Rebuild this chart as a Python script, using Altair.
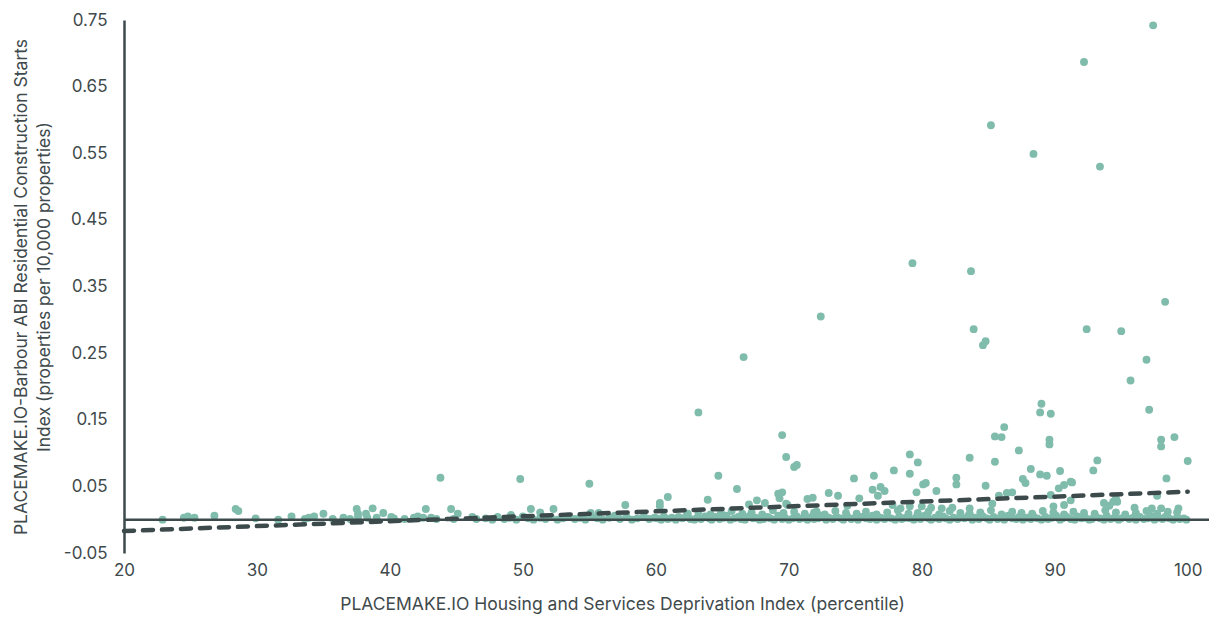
import altair as alt
import pandas as pd

# ---- data ----
# sparse points left of the dense band (20-47)
left_x = [22.9, 24.5, 24.8, 25.3, 26.8, 28.4, 28.6, 29.9, 31.6, 32.6,
          33.6, 33.9, 34.3, 35.0, 35.7, 36.5, 37.0, 37.5, 37.6, 37.6,
          38.2, 38.3, 38.7, 39.0, 39.5, 40.1, 40.3, 41.1, 41.8, 42.1,
          42.5, 42.7, 43.1, 43.5, 43.8, 44.6, 44.8, 45.1, 46.2, 46.5]
left_y = [0.000, 0.003, 0.005, 0.003, 0.006, 0.016, 0.013, 0.002, 0.000, 0.005,
          0.001, 0.003, 0.005, 0.009, 0.001, 0.003, 0.001, 0.016, 0.009, 0.004,
          0.009, 0.003, 0.017, 0.003, 0.010, 0.004, 0.002, 0.001, 0.003, 0.005,
          0.003, 0.016, 0.003, 0.001, 0.063, 0.016, 0.001, 0.009, 0.004, 0.001]

# dense band near zero, 47-60
band1_x = [47.2, 47.7, 48.1, 48.6, 49.0, 49.5, 50.0, 50.4, 50.8, 51.3,
           51.7, 52.1, 52.6, 53.0, 53.4, 53.9, 54.3, 54.7, 55.2, 55.6,
           56.0, 56.5, 56.9, 57.3, 57.8, 58.2, 58.6, 59.1, 59.5, 59.9]
band1_y = [0.002, 0.000, 0.004, 0.001, 0.003, 0.000, 0.005, 0.002, 0.000, 0.003,
           0.001, 0.004, 0.000, 0.002, 0.005, 0.001, 0.003, 0.000, 0.004, 0.002,
           0.000, 0.003, 0.006, 0.001, 0.004, 0.000, 0.002, 0.005, 0.001, 0.003]

# dense band near zero, 60-100
band2_x = [60.1, 60.4, 60.6, 60.9, 61.2, 61.5, 61.7, 62.0, 62.3, 62.6,
           62.9, 63.1, 63.4, 63.7, 64.0, 64.2, 64.5, 64.8, 65.1, 65.3,
           65.6, 65.9, 66.2, 66.4, 66.7, 67.0, 67.3, 67.5, 67.8, 68.1,
           68.4, 68.6, 68.9, 69.2, 69.5, 69.7, 70.0, 70.3, 70.6, 70.8,
           71.1, 71.4, 71.7, 71.9, 72.2, 72.5, 72.8, 73.0, 73.3, 73.6,
           73.9, 74.1, 74.4, 74.7, 75.0, 75.2, 75.5, 75.8, 76.1, 76.3,
           76.6, 76.9, 77.2, 77.4, 77.7, 78.0, 78.3, 78.5, 78.8, 79.1,
           79.4, 79.6, 79.9, 80.2, 80.5, 80.7, 81.0, 81.3, 81.6, 81.8,
           82.1, 82.4, 82.7, 82.9, 83.2, 83.5, 83.8, 84.0, 84.3, 84.6,
           84.9, 85.1, 85.4, 85.7, 86.0, 86.2, 86.5, 86.8, 87.1, 87.3,
           87.6, 87.9, 88.2, 88.4, 88.7, 89.0, 89.3, 89.5, 89.8, 90.1,
           90.4, 90.6, 90.9, 91.2, 91.5, 91.7, 92.0, 92.3, 92.6, 92.8,
           93.1, 93.4, 93.7, 93.9, 94.2, 94.5, 94.8, 95.0, 95.3, 95.6,
           95.9, 96.1, 96.4, 96.7, 97.0, 97.2, 97.5, 97.8, 98.1, 98.3,
           98.6, 98.9, 99.2, 99.4, 99.7, 99.9]
band2_y = [0.002, 0.000, 0.005, 0.001, 0.003, 0.000, 0.004, 0.002, 0.006, 0.001,
           0.000, 0.003, 0.001, 0.005, 0.002, 0.000, 0.004, 0.001, 0.003, 0.006,
           0.000, 0.002, 0.004, 0.001, 0.000, 0.005, 0.002, 0.003, 0.000, 0.001,
           0.004, 0.002, 0.000, 0.006, 0.001, 0.003, 0.000, 0.002, 0.005, 0.001,
           0.003, 0.000, 0.004, 0.001, 0.002, 0.006, 0.000, 0.003, 0.001, 0.004,
           0.002, 0.000, 0.005, 0.001, 0.003, 0.000, 0.004, 0.002, 0.001, 0.006,
           0.000, 0.003, 0.001, 0.004, 0.002, 0.000, 0.005, 0.001, 0.003, 0.002,
           0.000, 0.004, 0.001, 0.006, 0.002, 0.000, 0.003, 0.001, 0.005, 0.002,
           0.000, 0.003, 0.001, 0.004, 0.002, 0.006, 0.000, 0.003, 0.001, 0.005,
           0.002, 0.000, 0.004, 0.001, 0.003, 0.000, 0.006, 0.002, 0.001, 0.004,
           0.000, 0.003, 0.001, 0.005, 0.002, 0.000, 0.004, 0.001, 0.003, 0.006,
           0.000, 0.002, 0.004, 0.001, 0.000, 0.005, 0.002, 0.003, 0.000, 0.001,
           0.004, 0.002, 0.000, 0.006, 0.001, 0.003, 0.000, 0.002, 0.005, 0.001,
           0.003, 0.000, 0.004, 0.001, 0.002, 0.006, 0.000, 0.003, 0.001, 0.004,
           0.002, 0.000, 0.003, 0.001, 0.002, 0.000]

# second, slightly higher layer of the band
band3_x = [62.4, 63.2, 64.1, 64.9, 65.7, 66.5, 67.2, 68.0, 68.8, 69.6,
           70.4, 71.2, 71.9, 72.7, 73.5, 74.3, 75.1, 75.8, 76.6, 77.4,
           78.2, 79.0, 79.7, 80.5, 81.3, 82.1, 82.9, 83.6, 84.4, 85.2,
           86.0, 86.8, 87.5, 88.3, 89.1, 89.9, 90.7, 91.4, 92.2, 93.0,
           93.8, 94.6, 95.3, 96.1, 96.9, 97.7, 98.5, 99.2]
band3_y = [0.009, 0.012, 0.008, 0.010, 0.013, 0.009, 0.011, 0.008, 0.014, 0.010,
           0.012, 0.009, 0.011, 0.008, 0.013, 0.010, 0.009, 0.012, 0.008, 0.011,
           0.014, 0.009, 0.010, 0.012, 0.008, 0.013, 0.010, 0.009, 0.011, 0.014,
           0.008, 0.012, 0.010, 0.009, 0.013, 0.011, 0.008, 0.012, 0.010, 0.009,
           0.014, 0.011, 0.008, 0.010, 0.013, 0.009, 0.012, 0.011]

# points above the band, 47-100
mid_x = [49.1, 49.8, 50.6, 51.3, 52.3, 55.0, 55.1, 55.7, 57.7, 60.3,
         60.3, 60.9, 63.9, 64.7, 66.1, 67.0, 67.6, 68.2, 69.2, 69.3,
         69.5, 69.5, 69.8, 69.8, 69.9, 70.4, 70.6, 71.4, 71.8, 72.1,
         73.0, 73.7, 74.4, 74.9, 75.3, 76.3, 76.4, 76.7, 76.9, 77.2,
         77.8, 77.9, 78.4, 79.1, 79.1, 79.1, 79.6, 79.7, 80.0, 80.1,
         80.3, 80.7, 81.1, 81.5, 82.3, 82.6, 82.6, 83.6, 83.6, 84.8,
         85.3, 85.5, 85.5, 85.8, 86.0, 86.2, 86.4, 86.8, 87.3, 87.6,
         87.8, 88.2, 88.9, 89.4, 89.6, 89.6, 89.7, 89.9, 90.3, 90.4,
         90.7, 90.7, 91.2, 91.2, 91.3, 92.9, 93.2, 93.7, 94.1, 94.4,
         94.6, 94.7, 96.0, 97.3, 97.7, 98.0, 98.0, 98.0, 98.4, 99.0,
         99.3, 100.0]
mid_y = [0.007, 0.061, 0.016, 0.011, 0.016, 0.054, 0.010, 0.010, 0.022, 0.025,
         0.020, 0.034, 0.030, 0.066, 0.046, 0.023, 0.029, 0.025, 0.039, 0.032,
         0.127, 0.041, 0.094, 0.024, 0.022, 0.079, 0.082, 0.031, 0.033, 0.012,
         0.040, 0.036, 0.021, 0.062, 0.032, 0.045, 0.066, 0.036, 0.049, 0.043,
         0.022, 0.074, 0.017, 0.098, 0.069, 0.020, 0.041, 0.086, 0.020, 0.053,
         0.055, 0.018, 0.043, 0.017, 0.018, 0.063, 0.053, 0.093, 0.017, 0.051,
         0.024, 0.125, 0.087, 0.036, 0.124, 0.139, 0.040, 0.041, 0.104, 0.061,
         0.055, 0.076, 0.068, 0.066, 0.120, 0.113, 0.037, 0.020, 0.047, 0.073,
         0.052, 0.022, 0.057, 0.029, 0.056, 0.074, 0.089, 0.025, 0.021, 0.027,
         0.032, 0.027, 0.018, 0.017, 0.036, 0.120, 0.110, 0.017, 0.062, 0.124,
         0.017, 0.088]

# high outliers
high_x = [97.4, 92.2, 85.2, 88.4, 93.4, 79.3, 83.7, 98.3, 72.4, 83.9,
          92.4, 95.0, 84.8, 84.6, 66.6, 96.9, 95.7, 63.2, 97.1, 89.0,
          88.9, 89.7]
high_y = [0.742, 0.687, 0.592, 0.549, 0.530, 0.385, 0.373, 0.327, 0.305, 0.286,
          0.286, 0.283, 0.268, 0.262, 0.244, 0.240, 0.209, 0.161, 0.165, 0.174,
          0.161, 0.159]

# fitted trend line (dashed)
trend_x = [20, 100]
trend_y = [-0.017, 0.042]

# zero reference line (horizontal axis line)
zero_x = [20]
zero_x2 = [101.6]
zero_y = [0]

y_ticks = [-0.05, 0.05, 0.15, 0.25, 0.35, 0.45, 0.55, 0.65, 0.75]
x_ticks = [20, 30, 40, 50, 60, 70, 80, 90, 100]

# ---- build tables ----
xs = left_x + band1_x + band2_x + band3_x + mid_x + high_x
ys = left_y + band1_y + band2_y + band3_y + mid_y + high_y
points = pd.DataFrame({"x": xs, "y": ys})
trend = pd.DataFrame({"x": trend_x, "y": trend_y})
zero = pd.DataFrame({"x": zero_x, "x2": zero_x2, "y": zero_y})

TEXT = "#3f4a4c"
DARK = "#3d4a4c"
TEAL = "#80bcab"
FONT = "Inter"

x_scale = alt.Scale(domain=[20, 101.6], nice=False, zero=False)
y_scale = alt.Scale(domain=[-0.05, 0.75], nice=False, zero=False)

x_axis = alt.Axis(values=x_ticks, title="PLACEMAKE.IO Housing and Services Deprivation Index (percentile)",
                  domain=False, ticks=False, grid=False, labelFlush=False,
                  labelFontSize=17, labelColor=TEXT, labelFont=FONT,
                  titleFont=FONT, titleFontSize=17.5, titleColor=TEXT,
                  titleFontWeight="normal", labelPadding=9, titlePadding=17,
                  titleX=498, titleAlign="center")
y_axis = alt.Axis(values=y_ticks,
                  labelExpr="datum.value < 0 ? '-' + format(-datum.value, '.2f') : format(datum.value, '.2f')",
                  title=["PLACEMAKE.IO-Barbour ABI Residential Construction Starts",
                         "Index (properties per 10,000 properties)"],
                  domain=True, domainColor=DARK, domainWidth=2.5, ticks=False, grid=False,
                  labelFlush=False,
                  labelFontSize=17, labelColor=TEXT, labelFont=FONT, labelPadding=17,
                  titleFont=FONT, titleFontSize=17.5, titleColor=TEXT, titleFontWeight="normal",
                  titlePadding=10, titleLineHeight=23)

scatter = alt.Chart(points).mark_circle(size=62, color=TEAL, opacity=1).encode(
    x=alt.X("x:Q", scale=x_scale, axis=x_axis),
    y=alt.Y("y:Q", scale=y_scale, axis=y_axis),
)

base_rule = alt.Chart(zero).mark_rule(color=DARK, strokeWidth=2.5).encode(
    x=alt.X("x:Q", scale=x_scale),
    x2="x2:Q",
    y=alt.Y("y:Q", scale=y_scale),
)

line = alt.Chart(trend).mark_line(color=DARK, strokeWidth=4.5, strokeDash=[10, 9], strokeCap="round").encode(
    x=alt.X("x:Q", scale=x_scale),
    y=alt.Y("y:Q", scale=y_scale),
)

chart = alt.layer(scatter, base_rule, line).properties(
    width=1085, height=533,
    background="white",
    autosize=alt.AutoSizeParams(type="none"),
    padding={"left": 116, "top": 12, "right": 0, "bottom": 62},
).configure_view(strokeWidth=0, strokeOpacity=0)

chart.save("out.html", embed_options={"renderer": "svg", "actions": False})
